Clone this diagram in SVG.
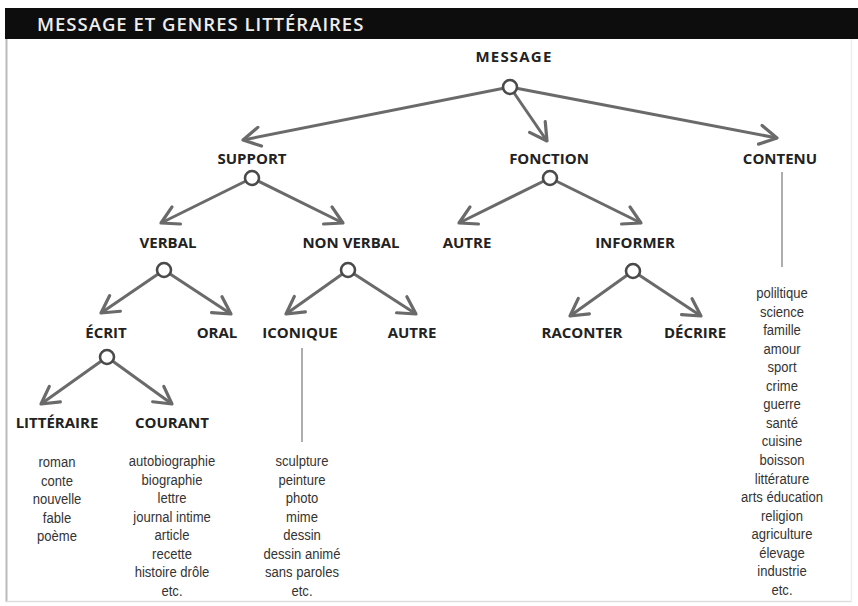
<svg xmlns="http://www.w3.org/2000/svg" width="858" height="606" viewBox="0 0 858 606">
<defs>
<marker id="chev" markerUnits="userSpaceOnUse" markerWidth="30" markerHeight="30" viewBox="-20 -15 30 30" refX="0" refY="0" orient="auto">
<path d="M-17,-9.5 L0,0 L-17,9.5" fill="none" stroke="#6a6a6a" stroke-width="3.2" stroke-linecap="round" stroke-linejoin="round"/>
</marker>
</defs>
<style>
.lbl{font-family:"Open Sans","DejaVu Sans",sans-serif;font-weight:700;font-size:15px;fill:#222;text-anchor:middle}
.lst{font-family:"Liberation Sans",Arial,sans-serif;font-size:15px;fill:#333;text-anchor:middle}
.arr{stroke:#6a6a6a;stroke-width:3;fill:none;marker-end:url(#chev)}
.dot{fill:#fff;stroke:#4a4a4a;stroke-width:2.6}
.vl{stroke:#777;stroke-width:1.2}
</style>
<rect width="858" height="606" fill="#fff"/>
<rect x="5" y="8" width="853" height="31" fill="#0d0d0d"/>
<text x="37" y="31" font-family="'Open Sans','DejaVu Sans',sans-serif" font-weight="600" font-size="18.5" letter-spacing="1" fill="#eee">MESSAGE ET GENRES LITTÉRAIRES</text>
<line x1="6.5" y1="39" x2="6.5" y2="602" stroke="#bbb" stroke-width="2"/>
<line x1="6" y1="601.5" x2="852" y2="601.5" stroke="#ddd" stroke-width="1.5"/>
<line x1="851.5" y1="39" x2="851.5" y2="602" stroke="#eee" stroke-width="1.5"/>

<g id="connectors">
<line class="arr" x1="510" y1="87" x2="243" y2="140"/>
<line class="arr" x1="510" y1="87" x2="547" y2="141"/>
<line class="arr" x1="510" y1="87" x2="777" y2="138"/>
<line class="arr" x1="252" y1="178" x2="161" y2="223"/>
<line class="arr" x1="252" y1="178" x2="343" y2="223"/>
<line class="arr" x1="164" y1="270" x2="101" y2="313"/>
<line class="arr" x1="164" y1="270" x2="231" y2="314"/>
<line class="arr" x1="348" y1="270" x2="286" y2="314"/>
<line class="arr" x1="348" y1="270" x2="416" y2="314"/>
<line class="arr" x1="107" y1="357" x2="41" y2="404"/>
<line class="arr" x1="107" y1="357" x2="172" y2="404"/>
<line class="arr" x1="550" y1="178" x2="459" y2="223"/>
<line class="arr" x1="550" y1="178" x2="641" y2="223"/>
<line class="arr" x1="633" y1="271" x2="570" y2="316"/>
<line class="arr" x1="633" y1="271" x2="701" y2="316"/>
<line class="vl" x1="782" y1="172" x2="782" y2="267"/>
<line class="vl" x1="302" y1="348" x2="302" y2="442"/>
</g>

<g id="message"><text class="lbl" x="514" y="62" font-size="16.5" letter-spacing="1.2">MESSAGE</text><circle class="dot" cx="510" cy="87" r="7"/></g>
<g id="support"><text class="lbl" x="252" y="164">SUPPORT</text><circle class="dot" cx="252" cy="178" r="7"/></g>
<g id="fonction"><text class="lbl" x="549" y="164">FONCTION</text><circle class="dot" cx="550" cy="178" r="7"/></g>
<g id="contenu"><text class="lbl" x="780" y="164">CONTENU</text></g>
<g id="verbal"><text class="lbl" x="168" y="248">VERBAL</text><circle class="dot" cx="164" cy="270" r="7"/></g>
<g id="nonverbal"><text class="lbl" x="351" y="248">NON VERBAL</text><circle class="dot" cx="348" cy="270" r="7"/></g>
<g id="autre1"><text class="lbl" x="467" y="248">AUTRE</text></g>
<g id="informer"><text class="lbl" x="635" y="248">INFORMER</text><circle class="dot" cx="633" cy="271" r="7"/></g>
<g id="ecrit"><text class="lbl" x="106" y="338">ÉCRIT</text><circle class="dot" cx="107" cy="357" r="7"/></g>
<g id="oral"><text class="lbl" x="217" y="338">ORAL</text></g>
<g id="iconique"><text class="lbl" x="300" y="338">ICONIQUE</text></g>
<g id="autre2"><text class="lbl" x="412" y="338">AUTRE</text></g>
<g id="raconter"><text class="lbl" x="582" y="338">RACONTER</text></g>
<g id="decrire"><text class="lbl" x="695" y="338">DÉCRIRE</text></g>
<g id="litteraire"><text class="lbl" x="57" y="428">LITTÉRAIRE</text></g>
<g id="courant"><text class="lbl" x="172" y="428">COURANT</text></g>

<g id="list-litteraire" transform="translate(57,0) scale(0.87,1)">
<text class="lst" x="0" y="467"><tspan x="0">roman</tspan><tspan x="0" dy="18.6">conte</tspan><tspan x="0" dy="18.6">nouvelle</tspan><tspan x="0" dy="18.6">fable</tspan><tspan x="0" dy="18.6">poème</tspan></text>
</g>
<g id="list-courant" transform="translate(172,0) scale(0.87,1)">
<text class="lst" x="0" y="466"><tspan x="0">autobiographie</tspan><tspan x="0" dy="18.57">biographie</tspan><tspan x="0" dy="18.57">lettre</tspan><tspan x="0" dy="18.57">journal intime</tspan><tspan x="0" dy="18.57">article</tspan><tspan x="0" dy="18.57">recette</tspan><tspan x="0" dy="18.57">histoire drôle</tspan><tspan x="0" dy="18.57">etc.</tspan></text>
</g>
<g id="list-iconique" transform="translate(302,0) scale(0.87,1)">
<text class="lst" x="0" y="466"><tspan x="0">sculpture</tspan><tspan x="0" dy="18.57">peinture</tspan><tspan x="0" dy="18.57">photo</tspan><tspan x="0" dy="18.57">mime</tspan><tspan x="0" dy="18.57">dessin</tspan><tspan x="0" dy="18.57">dessin animé</tspan><tspan x="0" dy="18.57">sans paroles</tspan><tspan x="0" dy="18.57">etc.</tspan></text>
</g>
<g id="list-contenu" transform="translate(782,0) scale(0.87,1)">
<text class="lst" x="0" y="298"><tspan x="0">poliltique</tspan><tspan x="0" dy="18.56">science</tspan><tspan x="0" dy="18.56">famille</tspan><tspan x="0" dy="18.56">amour</tspan><tspan x="0" dy="18.56">sport</tspan><tspan x="0" dy="18.56">crime</tspan><tspan x="0" dy="18.56">guerre</tspan><tspan x="0" dy="18.56">santé</tspan><tspan x="0" dy="18.56">cuisine</tspan><tspan x="0" dy="18.56">boisson</tspan><tspan x="0" dy="18.56">littérature</tspan><tspan x="0" dy="18.56">arts éducation</tspan><tspan x="0" dy="18.56">religion</tspan><tspan x="0" dy="18.56">agriculture</tspan><tspan x="0" dy="18.56">élevage</tspan><tspan x="0" dy="18.56">industrie</tspan><tspan x="0" dy="18.56">etc.</tspan></text>
</g>
</svg>
